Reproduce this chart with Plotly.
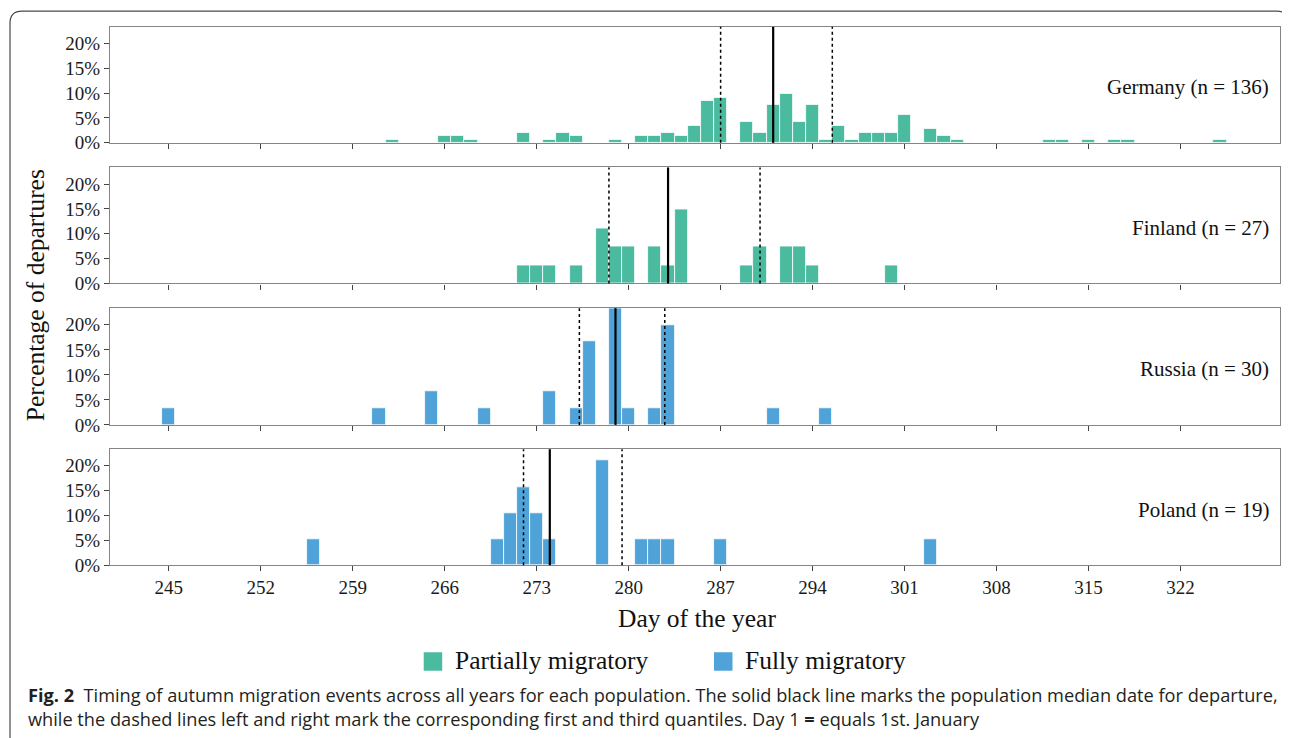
import plotly.graph_objects as go
from plotly.subplots import make_subplots

# ---------------- data ----------------
populations = ["Germany", "Finland", "Russia", "Poland"]
sample_sizes = [136, 27, 30, 19]
groups = ["Partially migratory", "Partially migratory", "Fully migratory", "Fully migratory"]

germany_days = [262, 266, 267, 268, 272, 274, 275, 276, 279, 281, 282, 283, 284, 285, 286, 287,
                289, 290, 291, 292, 293, 294, 295, 296, 297, 298, 299, 300, 301, 303, 304, 305,
                312, 313, 315, 317, 318, 325]
germany_counts = [1, 2, 2, 1, 3, 1, 3, 2, 1, 2, 2, 3, 2, 5, 12, 13,
                  6, 3, 11, 14, 6, 11, 1, 5, 1, 3, 3, 3, 8, 4, 2, 1,
                  1, 1, 1, 1, 1, 1]

finland_days = [272, 273, 274, 276, 278, 279, 280, 282, 283, 284, 289, 290, 292, 293, 294, 300]
finland_counts = [1, 1, 1, 1, 3, 2, 2, 2, 1, 4, 1, 2, 2, 2, 1, 1]

russia_days = [245, 261, 265, 269, 274, 276, 277, 279, 280, 282, 283, 291, 295]
russia_counts = [1, 1, 2, 1, 2, 1, 5, 7, 1, 1, 6, 1, 1]

poland_days = [256, 270, 271, 272, 273, 274, 278, 281, 282, 283, 287, 303]
poland_counts = [1, 1, 2, 3, 2, 1, 4, 1, 1, 1, 1, 1]

medians = [291, 283, 279, 274]
first_quartiles = [287, 278.5, 276.25, 272]
third_quartiles = [295.5, 290, 282.75, 279.5]

x_ticks = [245, 252, 259, 266, 273, 280, 287, 294, 301, 308, 315, 322]
y_ticks = [0, 0.05, 0.10, 0.15, 0.20]

group_colors = {"Partially migratory": "#4bbba0", "Fully migratory": "#4fa3d8"}

all_days = [germany_days, finland_days, russia_days, poland_days]
all_counts = [germany_counts, finland_counts, russia_counts, poland_counts]

# ---------------- layout helpers ----------------
PAGE_MARGIN = 8      # body margin of the html page
V_SCALE = 0.985      # vertical squeeze observed in the captured picture
W = 1290 - 2 * PAGE_MARGIN
H = 742
def fx(p):
    return (p - PAGE_MARGIN) / W
def fy(p):
    return 1 - (p / V_SCALE - PAGE_MARGIN) / H

panel_px = [(26.7, 142.7), (167.3, 283.3), (308.0, 424.7), (449.0, 565.0)]
SERIF = "Liberation Serif, Times New Roman, serif"

fig = make_subplots(rows=4, cols=1, shared_xaxes=True)

pct_all = []
for i in range(4):
    total = sum(all_counts[i])
    pct = [c / total for c in all_counts[i]]
    pct_all.append(pct)
    fig.add_trace(
        go.Bar(
            x=all_days[i], y=pct, width=1,
            marker=dict(color=group_colors[groups[i]], line=dict(color="white", width=0.8)),
            showlegend=False, name=populations[i],
        ),
        row=i + 1, col=1,
    )
    fig.add_vline(x=first_quartiles[i], line=dict(color="black", width=1.5, dash="3px,3px"), row=i + 1, col=1)
    fig.add_vline(x=medians[i], line=dict(color="black", width=2.2), row=i + 1, col=1)
    fig.add_vline(x=third_quartiles[i], line=dict(color="black", width=1.5, dash="3px,3px"), row=i + 1, col=1)

y_max = max(max(p) for p in pct_all)

fig.update_xaxes(
    range=[240.53, 329.57], tickvals=x_ticks, ticks="outside", ticklen=5, tickwidth=1.2,
    tickcolor="#444", showline=True, mirror=True, linecolor="#858585", linewidth=1.2,
    showgrid=False, zeroline=False, domain=[fx(110), fx(1280)],
    tickfont=dict(family=SERIF, size=19, color="#1a1a1a"),
)
fig.update_yaxes(
    range=[0, y_max], tickvals=y_ticks, tickformat=".0%", ticks="outside", ticklen=5,
    tickwidth=1.2, tickcolor="#444", showline=True, mirror=True, linecolor="#858585",
    linewidth=1.2, showgrid=False, zeroline=False,
    tickfont=dict(family=SERIF, size=19, color="#1a1a1a"),
)
for i in range(4):
    top, bot = panel_px[i]
    key = "yaxis" if i == 0 else f"yaxis{i + 1}"
    fig.layout[key].domain = [fy(bot), fy(top)]
    xkey = "xaxis" if i == 0 else f"xaxis{i + 1}"
    fig.layout[xkey].showticklabels = (i == 3)

annotations = []
for i in range(4):
    top, bot = panel_px[i]
    annotations.append(dict(
        text=f"{populations[i]} (n = {sample_sizes[i]})", xref="paper", yref="paper",
        x=fx(1271), y=fy((top + bot) / 2 + 2.5), xanchor="right", yanchor="middle",
        showarrow=False, font=dict(family=SERIF, size=21, color="#111"),
    ))

annotations.append(dict(
    text="Percentage of departures", xref="paper", yref="paper", x=fx(35), y=fy(295),
    textangle=-90, showarrow=False, xanchor="center", yanchor="middle",
    font=dict(family=SERIF, size=25.5, color="#111"),
))
annotations.append(dict(
    text="Day of the year", xref="paper", yref="paper", x=fx(696.5), y=fy(618),
    showarrow=False, xanchor="center", yanchor="middle",
    font=dict(family=SERIF, size=25.5, color="#111"),
))

legend_items = [("Partially migratory", 423.7, 452.5), ("Fully migratory", 714.0, 743.0)]
shapes = []
for label, sq_x, tx in legend_items:
    shapes.append(dict(type="rect", xref="paper", yref="paper", x0=fx(sq_x), x1=fx(sq_x + 18.5),
                       y0=fy(670.5), y1=fy(652), fillcolor=group_colors[label], line=dict(width=0)))
    annotations.append(dict(
        text=label, xref="paper", yref="paper", x=fx(tx), y=fy(660), xanchor="left",
        yanchor="middle", showarrow=False, font=dict(family=SERIF, size=25.5, color="#111"),
    ))

caption_1 = ("<b>Fig. 2</b>\u00a0\u00a0Timing of autumn migration events across all years for each population. "
             "The solid black line marks the population median date for departure,")
caption_2 = ("while the dashed lines left and right mark the corresponding first and third quantiles. "
             "Day 1 <b>=</b> equals 1st. January")
CAP_FONT = "Open Sans, Noto Sans, sans-serif"
annotations.append(dict(text=caption_1, xref="paper", yref="paper", x=fx(26), y=fy(695),
                        xanchor="left", yanchor="middle", showarrow=False,
                        font=dict(family=CAP_FONT, size=18.2, color="#231f20")))
annotations.append(dict(text=caption_2, xref="paper", yref="paper", x=fx(26), y=fy(719),
                        xanchor="left", yanchor="middle", showarrow=False,
                        font=dict(family=CAP_FONT, size=18.2, color="#231f20")))

# rounded frame around the figure
r = 12
path = (f"M {fx(10)},{fy(760)} L {fx(10)},{fy(11 + r)} "
        f"Q {fx(10)},{fy(11)} {fx(10 + r)},{fy(11)} "
        f"L {fx(1289 - r)},{fy(11)} Q {fx(1289)},{fy(11)} {fx(1289)},{fy(11 + r)} "
        f"L {fx(1289)},{fy(760)}")
shapes.append(dict(type="path", xref="paper", yref="paper", path=path,
                   line=dict(color="#4a4a4a", width=1.2)))

for s in shapes:
    fig.add_shape(**s)
for a in annotations:
    fig.add_annotation(**a)

fig.update_layout(
    width=W, height=H, autosize=False,
    margin=dict(l=0, r=0, t=0, b=0),
    plot_bgcolor="white", paper_bgcolor="white",
    bargap=0, showlegend=False,
    font=dict(family=SERIF, color="#111"),
)

fig.write_html("out.html")
